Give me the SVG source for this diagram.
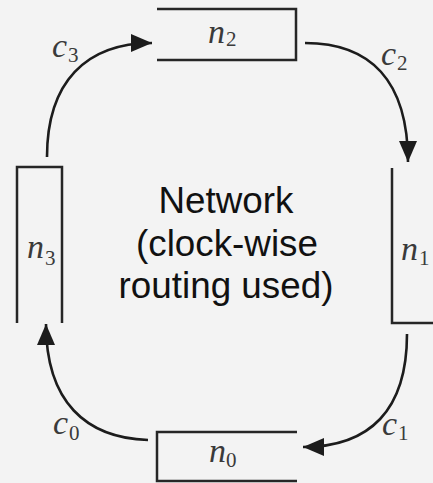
<svg xmlns="http://www.w3.org/2000/svg" width="433" height="483" viewBox="0 0 433 483">
  <style>
    .box { fill: none; stroke: #262626; stroke-width: 2.5; stroke-linejoin: miter; }
    .link { fill: none; stroke: #1c1c1c; stroke-width: 2.6; }
    .sym { font-family: "Liberation Serif", "Times New Roman", serif; font-style: italic; font-size: 34px; fill: #3a3a3a; }
    .sub { font-family: "Liberation Serif", "Times New Roman", serif; font-style: normal; font-size: 21px; fill: #3a3a3a; }
    .title { font-family: "Liberation Sans", Arial, sans-serif; font-size: 36.8px; fill: #111111; text-anchor: middle; }
  </style>
  <defs>
    <marker id="head" markerUnits="userSpaceOnUse" markerWidth="21" markerHeight="18" refX="21" refY="9" orient="auto">
      <path d="M0,0 L21,9 L0,18 Z" fill="#1c1c1c"/>
    </marker>
  </defs>

  <rect width="433" height="483" fill="#f3f3f3"/>

  <!-- routers around the ring -->
  <g id="n2">
    <path class="box" d="M157,9 H296 V60 H157"/>
    <text class="sym" x="208" y="43">n</text>
    <text class="sub" x="226" y="46">2</text>
  </g>
  <g id="n1">
    <path class="box" d="M392,168 V323 H440"/>
    <text class="sym" x="401" y="260">n</text>
    <text class="sub" x="419" y="265">1</text>
  </g>
  <g id="n0">
    <path class="box" d="M297,432 H157 V481 H297"/>
    <text class="sym" x="209" y="462">n</text>
    <text class="sub" x="226" y="467">0</text>
  </g>
  <g id="n3">
    <path class="box" d="M17,323 V167 H62 V323"/>
    <text class="sym" x="27" y="258">n</text>
    <text class="sub" x="45" y="265">3</text>
  </g>

  <!-- clockwise channels -->
  <g id="channels">
    <path class="link" d="M47,157 C47,82 86,43 152,43" marker-end="url(#head)"/>
    <path class="link" d="M305,43 C370,43 408,80 408,162" marker-end="url(#head)"/>
    <path class="link" d="M407,334 C407,410 370,447 303,447" marker-end="url(#head)"/>
    <path class="link" d="M148,440 C86,438 46,402 46,324" marker-end="url(#head)"/>
    <text class="sym" x="52" y="57">c</text><text class="sub" x="68" y="62">3</text>
    <text class="sym" x="381" y="65">c</text><text class="sub" x="397" y="70">2</text>
    <text class="sym" x="382" y="435">c</text><text class="sub" x="398" y="440">1</text>
    <text class="sym" x="53" y="434">c</text><text class="sub" x="69" y="440">0</text>
  </g>

  <g id="caption">
    <text class="title" x="226" y="213">Network</text>
    <text class="title" x="227" y="256">(clock-wise</text>
    <text class="title" x="226" y="298">routing used)</text>
  </g>
</svg>
